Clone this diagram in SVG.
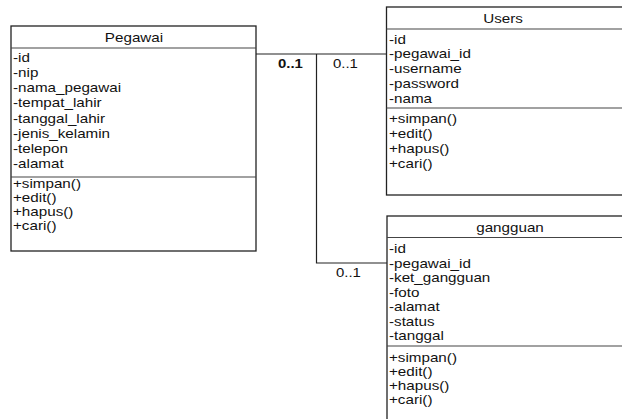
<svg xmlns="http://www.w3.org/2000/svg" width="622" height="419" viewBox="0 0 622 419">
<style>
.box{fill:#fff;stroke:#222;stroke-width:1.3}
.sep{stroke:#444;stroke-width:1.2}
.conn{fill:none;stroke:#222;stroke-width:1.2}
text{font-family:"Liberation Sans",Arial,sans-serif;font-size:13px;fill:#111}
.t{text-anchor:middle}
.b{font-weight:bold}
</style>
<rect width="622" height="419" fill="#fff"/>
<g id="connectors">
<polyline class="conn" points="256,54 386.5,54"/>
<polyline class="conn" points="316.5,54 316.5,263 387,263"/>
<g transform="translate(278,0) scale(1.15,1)"><text class="b" x="0" y="68">0..1</text></g>
<g transform="translate(333,0) scale(1.15,1)"><text x="0" y="68">0..1</text></g>
<g transform="translate(336,0) scale(1.15,1)"><text x="0" y="277">0..1</text></g>
</g>
<g id="pegawai">
<rect class="box" x="11" y="26" width="245" height="225"/>
<line class="sep" x1="11" y1="48" x2="256" y2="48"/>
<line class="sep" x1="11" y1="177" x2="256" y2="177"/>
<g transform="translate(134,0) scale(1.17,1)"><text class="t" x="0" y="42.5">Pegawai</text></g>
<g transform="translate(13,0) scale(1.17,1)">
<text x="0" y="62.5">-id</text>
<text x="0" y="77.5">-nip</text>
<text x="0" y="92.5">-nama_pegawai</text>
<text x="0" y="107.5">-tempat_lahir</text>
<text x="0" y="123">-tanggal_lahir</text>
<text x="0" y="138">-jenis_kelamin</text>
<text x="0" y="153">-telepon</text>
<text x="0" y="168">-alamat</text>
<text x="0" y="188.5">+simpan()</text>
<text x="0" y="202.5">+edit()</text>
<text x="0" y="216.5">+hapus()</text>
<text x="0" y="230.5">+cari()</text>
</g>
</g>
<g id="users">
<rect class="box" x="386.5" y="7" width="240" height="188"/>
<line class="sep" x1="386.5" y1="29" x2="626" y2="29"/>
<line class="sep" x1="386.5" y1="108" x2="626" y2="108"/>
<g transform="translate(503,0) scale(1.17,1)"><text class="t" x="0" y="23.5">Users</text></g>
<g transform="translate(389,0) scale(1.17,1)">
<text x="0" y="44">-id</text>
<text x="0" y="58.5">-pegawai_id</text>
<text x="0" y="73.5">-username</text>
<text x="0" y="88.5">-password</text>
<text x="0" y="103.5">-nama</text>
<text x="0" y="123.5">+simpan()</text>
<text x="0" y="138">+edit()</text>
<text x="0" y="153">+hapus()</text>
<text x="0" y="168">+cari()</text>
</g>
</g>
<g id="gangguan">
<rect class="box" x="387" y="216" width="250" height="220"/>
<line class="sep" x1="387" y1="237.5" x2="637" y2="237.5"/>
<line class="sep" x1="387" y1="346" x2="637" y2="346"/>
<g transform="translate(510,0) scale(1.17,1)"><text class="t" x="0" y="232">gangguan</text></g>
<g transform="translate(389,0) scale(1.17,1)">
<text x="0" y="253">-id</text>
<text x="0" y="268">-pegawai_id</text>
<text x="0" y="282.5">-ket_gangguan</text>
<text x="0" y="297">-foto</text>
<text x="0" y="311.5">-alamat</text>
<text x="0" y="326">-status</text>
<text x="0" y="340.5">-tanggal</text>
<text x="0" y="362">+simpan()</text>
<text x="0" y="376">+edit()</text>
<text x="0" y="390.5">+hapus()</text>
<text x="0" y="404.5">+cari()</text>
</g>
</g>
</svg>
